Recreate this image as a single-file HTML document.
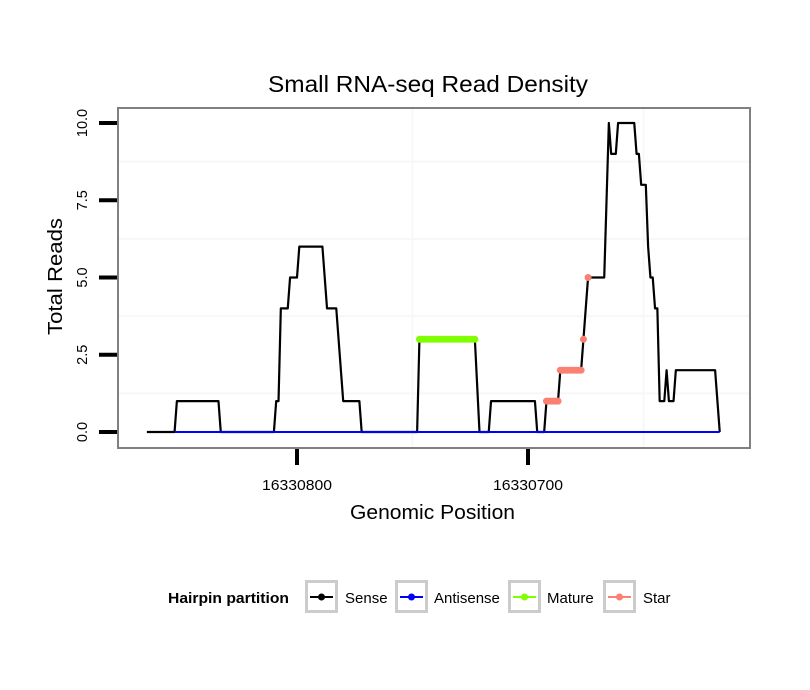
<!DOCTYPE html>
<html><head><meta charset="utf-8"><style>
body{margin:0;background:#fff}
svg{display:block;font-family:"Liberation Sans",sans-serif}
</style></head><body>
<svg id="chart" width="810" height="690" viewBox="0 0 810 690">
<rect width="810" height="690" fill="#fff"/>
<text x="268" y="92" font-size="23" textLength="320" lengthAdjust="spacingAndGlyphs">Small RNA-seq Read Density</text>
<g id="grid"></g>
<g id="yaxis"></g>
<g id="xaxis"></g>
<g id="series"></g>
<rect x="118" y="108" width="632" height="340" fill="none" stroke="#808080" stroke-width="2"/>
<text x="350" y="519" font-size="20" textLength="165" lengthAdjust="spacingAndGlyphs">Genomic Position</text>
<text transform="translate(62,335) rotate(-90)" font-size="20" textLength="117" lengthAdjust="spacingAndGlyphs">Total Reads</text>
<g>
<text x="168" y="603" font-size="15" font-weight="bold" textLength="121" lengthAdjust="spacingAndGlyphs">Hairpin partition</text>
<g>
<rect x="306.5" y="581.5" width="30" height="30" fill="#fff" stroke="#ccc" stroke-width="3"/>
<line x1="310" y1="597" x2="333" y2="597" stroke="#000" stroke-width="2"/><circle cx="321.5" cy="597" r="3.5" fill="#000"/>
<text x="345" y="603" font-size="15">Sense</text></g>
<g>
<rect x="396.5" y="581.5" width="30" height="30" fill="#fff" stroke="#ccc" stroke-width="3"/>
<line x1="400" y1="597" x2="423" y2="597" stroke="#0000ff" stroke-width="2"/><circle cx="411.5" cy="597" r="3.5" fill="#0000ff"/>
<text x="434" y="603" font-size="15">Antisense</text></g>
<g>
<rect x="509.5" y="581.5" width="30" height="30" fill="#fff" stroke="#ccc" stroke-width="3"/>
<line x1="513" y1="597" x2="536" y2="597" stroke="#7fff00" stroke-width="2"/><circle cx="524.5" cy="597" r="3.5" fill="#7fff00"/>
<text x="547" y="603" font-size="15">Mature</text></g>
<g>
<rect x="604.5" y="581.5" width="30" height="30" fill="#fff" stroke="#ccc" stroke-width="3"/>
<line x1="608" y1="597" x2="631" y2="597" stroke="#fa8072" stroke-width="2"/><circle cx="619.5" cy="597" r="3.5" fill="#fa8072"/>
<text x="643" y="603" font-size="15">Star</text></g>
</g>
</svg>
<script>
const sensePos = [16330865,16330853,16330852,16330834,16330833,16330810,16330809,16330808,16330807,16330804,16330803,16330800,16330799,16330789,16330787,16330783,16330780,16330773,16330772,16330748,16330747,16330723,16330721,16330717,16330716,16330697,16330696,16330693,16330692,16330687,16330686,16330677,16330676,16330674,16330667,16330665,16330664,16330662,16330661,16330654,16330653,16330652,16330651,16330649,16330648,16330647,16330646,16330645,16330644,16330643,16330641,16330640,16330639,16330637,16330636,16330619,16330617];
const senseVal = [0,0,1,1,0,0,1,1,4,4,5,5,6,6,4,4,1,1,0,0,3,3,0,0,1,1,0,0,1,1,2,2,3,5,5,10,9,9,10,10,9,9,8,8,6,5,5,4,4,1,1,2,1,1,2,2,0];
const antiPos = [16330853,16330617];
const antiVal = [0,0];
const matureStart = [16330747];
const matureEnd = [16330723];
const matureVal = [3];
const starStart = [16330692,16330686,16330676,16330674];
const starEnd = [16330687,16330677,16330676,16330674];
const starVal = [1,2,3,5];
const yTicks = [0,2.5,5,7.5,10];
const yTickLabels = ["0.0","2.5","5.0","7.5","10.0"];
const xTicks = [16330800,16330700];
const xTickLabels = ["16330800","16330700"];
const xGrid = [16330750,16330650];
const yGrid = [1.25,3.75,6.25,8.75];

const NS="http://www.w3.org/2000/svg";
const X = p => 297 + (16330800 - p) * 2.31;
const Y = v => 432 - v * 30.9;
function mk(tag, parent, attrs){const e=document.createElementNS(NS,tag);for(const k in attrs)e.setAttribute(k,attrs[k]);parent.appendChild(e);return e;}
const grid=document.getElementById('grid'), ya=document.getElementById('yaxis'), xa=document.getElementById('xaxis'), ser=document.getElementById('series');

yGrid.forEach(v=>{const l=mk('line',grid,{x1:118,x2:750,y1:Y(v),y2:Y(v),stroke:'#f7f7f7','stroke-width':2});

});
xGrid.forEach(p=>{const l=mk('line',grid,{x1:X(p),x2:X(p),y1:108,y2:448,stroke:'#f7f7f7','stroke-width':2});

});

yTicks.forEach((v,i)=>{const t=mk('line',ya,{x1:99,x2:117,y1:Y(v),y2:Y(v),stroke:'#000','stroke-width':4});


const tx=mk('text',ya,{transform:`translate(87,${Y(v)}) rotate(-90)`,'font-size':14.5,'text-anchor':'middle',fill:'#000'});
tx.textContent=yTickLabels[i];

});

xTicks.forEach((p,i)=>{const t=mk('line',xa,{x1:X(p),x2:X(p),y1:449,y2:465,stroke:'#000','stroke-width':4});


const tx=mk('text',xa,{x:X(p),y:490,'font-size':15,'text-anchor':'middle',textLength:70,lengthAdjust:'spacingAndGlyphs'});
tx.textContent=xTickLabels[i];

});

const sl=mk('polyline',ser,{points:sensePos.map((p,i)=>X(p)+','+Y(senseVal[i])).join(' '),fill:'none',stroke:'#000','stroke-width':2.2,'stroke-linejoin':'round'});


const al=mk('polyline',ser,{points:antiPos.map((p,i)=>X(p)+','+Y(antiVal[i])).join(' '),fill:'none',stroke:'#0000ff','stroke-width':2});



function pts(starts,ends,vals,color,name){
 starts.forEach((s,i)=>{
  for(let p=s;p>=ends[i];p--){
   const c=mk('circle',ser,{cx:X(p),cy:Y(vals[i]),r:3.5,fill:color});
   
   
  }
 });
}
pts(matureStart,matureEnd,matureVal,'#7fff00','mature-point');
pts(starStart,starEnd,starVal,'#fa8072','star-point');
</script>
</body></html>
